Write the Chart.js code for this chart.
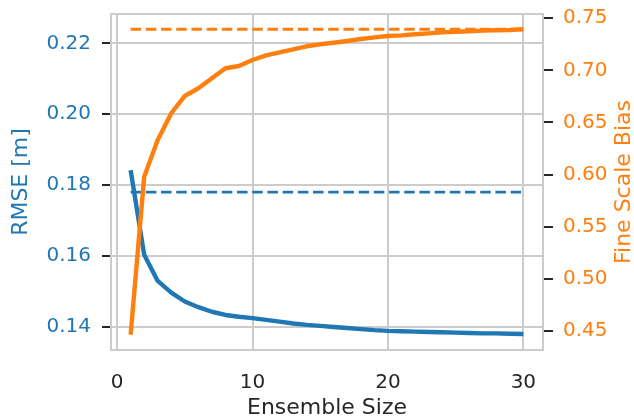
<!DOCTYPE html>
<html>
<head>
<meta charset="utf-8">
<script src="https://cdn.jsdelivr.net/npm/chart.js@4.4.1/dist/chart.umd.min.js"></script>
<style>
  html, body { margin: 0; padding: 0; background: #ffffff; }
  #wrap { width: 634px; height: 418px; }
</style>
</head>
<body>
<div id="wrap"><canvas id="myChart" width="634" height="418"></canvas></div>
<script>
const ensembleSize = [1, 2, 3, 4, 5, 6, 7, 8, 9, 10, 11, 12, 13, 14, 15,
                      16, 17, 18, 19, 20, 21, 22, 23, 24, 25, 26, 27, 28, 29, 30];

const rmse = [0.1842, 0.1603, 0.1529, 0.1496, 0.1471, 0.1455, 0.1442, 0.1433, 0.1428, 0.1424,
              0.1419, 0.1414, 0.1409, 0.1405, 0.1402, 0.1399, 0.1396, 0.1393, 0.1390, 0.1388,
              0.1387, 0.1386, 0.1385, 0.1384, 0.1383, 0.1382, 0.1381, 0.1381, 0.1380, 0.1379];

const fineScaleBias = [0.4462, 0.5979, 0.6331, 0.6588, 0.6754, 0.6828, 0.6924, 0.7020, 0.7042, 0.7099,
                       0.7144, 0.7173, 0.7202, 0.7231, 0.7250, 0.7265, 0.7282, 0.7301, 0.7317, 0.7330,
                       0.7336, 0.7346, 0.7355, 0.7365, 0.7371, 0.7375, 0.7381, 0.7385, 0.7388, 0.7394];

// reference levels, drawn dashed over the full ensemble range
const rmseReference = 0.178;
const biasReference = 0.7394;

const xTicks = [0, 10, 20, 30];
const rmseTicks = [0.14, 0.16, 0.18, 0.20, 0.22];
const biasTicks = [0.45, 0.50, 0.55, 0.60, 0.65, 0.70, 0.75];

const BLUE = '#1f77b4';
const ORANGE = '#ff7f0e';
const GRID = '#cccccc';
const DARK = '#262626';

Chart.defaults.font.family = "'DejaVu Sans', sans-serif";

const toPoints = (xs, ys) => xs.map((x, i) => ({ x: x, y: ys[i] }));
const flatLine = (y) => [
    { x: ensembleSize[0], y: y },
    { x: ensembleSize[ensembleSize.length - 1], y: y }
];
const fixedTicks = (values) => (scale) => {
    scale.ticks = values.map(v => ({ value: v }));
};
// fixed axis sizes; drop the label overhang so the plot box stays put
const fixWidth = (w) => (s) => { s.width = w; s.paddingTop = 0; s.paddingBottom = 0; };
const fixHeight = (h) => (s) => { s.height = h; s.paddingLeft = 0; s.paddingRight = 0; };

// box around the plot area plus the right-hand axis label (reads bottom to top)
const frame = {
    id: 'frame',
    afterDatasetsDraw(chart) {
        const { ctx, chartArea: a } = chart;
        ctx.save();
        ctx.strokeStyle = GRID;
        ctx.lineWidth = 2;
        ctx.strokeRect(a.left, a.top, a.right - a.left, a.bottom - a.top);

        ctx.translate(chart.width - 9.5, (a.top + a.bottom) / 2);
        ctx.rotate(-Math.PI / 2);
        ctx.fillStyle = ORANGE;
        ctx.font = "22px 'DejaVu Sans'";
        ctx.textAlign = 'center';
        ctx.textBaseline = 'middle';
        ctx.fillText('Fine Scale Bias', 0, 0);
        ctx.restore();
    }
};

const data = {
    datasets: [
        {
            label: 'Fine Scale Bias',
            data: toPoints(ensembleSize, fineScaleBias),
            yAxisID: 'y1',
            borderColor: ORANGE,
            borderWidth: 4.4,
            borderJoinStyle: 'round',
            pointRadius: 0,
            tension: 0
        },
        {
            label: 'Bias reference',
            data: flatLine(biasReference),
            yAxisID: 'y1',
            borderColor: ORANGE,
            borderWidth: 2.9,
            borderDash: [10.5, 4.7],
            pointRadius: 0
        },
        {
            label: 'RMSE',
            data: toPoints(ensembleSize, rmse),
            yAxisID: 'y',
            borderColor: BLUE,
            borderWidth: 4.4,
            borderJoinStyle: 'round',
            pointRadius: 0,
            tension: 0
        },
        {
            label: 'RMSE reference',
            data: flatLine(rmseReference),
            yAxisID: 'y',
            borderColor: BLUE,
            borderWidth: 2.9,
            borderDash: [10.5, 4.7],
            pointRadius: 0
        }
    ]
};

const config = {
    type: 'line',
    data,
    options: {
        responsive: false,
        animation: false,
        layout: { padding: { top: 14, left: 0, right: 0, bottom: 0 } },
        plugins: {
            legend: { display: false },
            tooltip: { enabled: false }
        },
        scales: {
            x: {
                type: 'linear',
                min: -0.45,
                max: 31.45,
                afterBuildTicks: fixedTicks(xTicks),
                afterFit: fixHeight(68),
                border: { display: false },
                grid: { color: GRID, lineWidth: 2, drawTicks: false },
                ticks: {
                    color: DARK,
                    font: { size: 20 },
                    padding: 21,
                    maxRotation: 0
                },
                title: {
                    display: true,
                    text: 'Ensemble Size',
                    color: DARK,
                    font: { size: 22 },
                    padding: { top: 0, bottom: -3 }
                }
            },
            y: {
                position: 'left',
                min: 0.1334,
                max: 0.2283,
                afterBuildTicks: fixedTicks(rmseTicks),
                afterFit: fixWidth(111),
                border: { display: false },
                grid: { color: GRID, lineWidth: 2, tickColor: DARK, tickLength: 9 },
                ticks: {
                    color: BLUE,
                    font: { size: 20 },
                    padding: 11,
                    callback: (v) => v.toFixed(2)
                },
                title: {
                    display: true,
                    text: 'RMSE [m]',
                    color: BLUE,
                    font: { size: 22 },
                    padding: { top: 8, bottom: 0 }
                }
            },
            y1: {
                position: 'right',
                min: 0.4315,
                max: 0.7541,
                afterBuildTicks: fixedTicks(biasTicks),
                afterFit: fixWidth(91),
                border: { display: false },
                grid: { drawOnChartArea: false, tickColor: DARK, lineWidth: 2, tickLength: 10 },
                ticks: {
                    color: ORANGE,
                    font: { size: 20 },
                    padding: 10,
                    callback: (v) => v.toFixed(2)
                }
            }
        }
    },
    plugins: [frame]
};

const myChart = new Chart(
    document.getElementById('myChart').getContext('2d'),
    config
);
</script>
</body>
</html>
